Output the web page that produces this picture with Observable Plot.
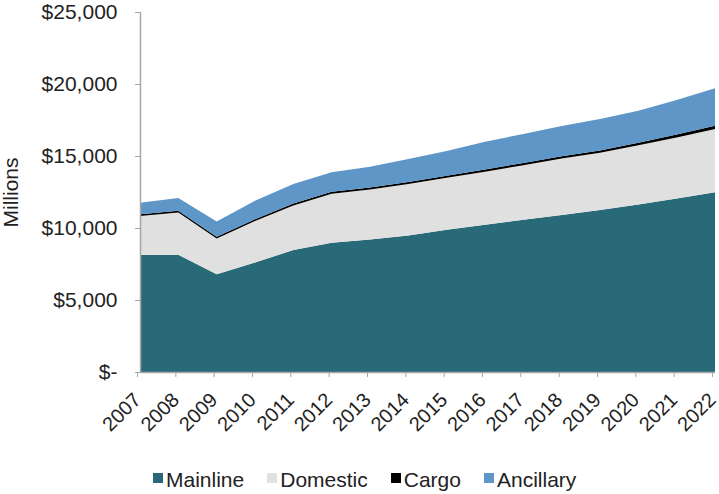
<!DOCTYPE html>
<html>
<head>
<meta charset="utf-8">
<script src="https://cdn.jsdelivr.net/npm/d3@7"></script>
<script src="https://cdn.jsdelivr.net/npm/@observablehq/plot@0.6"></script>
<style>
  html, body { margin: 0; padding: 0; background: #fff; }
  body { font-family: "Liberation Sans", Arial, sans-serif; color: #222; width: 719px; }
  #legend { display: flex; align-items: center; padding-left: 153px; margin-top: 20px; height: 40px; font-size: 21px; }
  #legend .item { display: flex; align-items: center; margin-right: 23px; }
  #legend .sw { width: 10px; height: 10px; margin-right: 3px; position: relative; top: -2px; }
</style>
</head>
<body>
<div id="chart"></div>
<div id="legend"></div>
<script>
const years = [2007, 2008, 2009, 2010, 2011, 2012, 2013, 2014, 2015, 2016, 2017, 2018, 2019, 2020, 2021, 2022];
const seriesNames = ["Mainline", "Domestic", "Cargo", "Ancillary"];
const seriesColors = ["#296a78", "#e0e0e0", "#000000", "#5e96c8"];
const mainline  = [8130, 8150, 6780, 7600, 8470, 8980, 9210, 9480, 9870, 10220, 10570, 10900, 11250, 11640, 12050, 12480];
const domestic  = [2710, 2920, 2490, 2880, 3090, 3390, 3460, 3580, 3620, 3680, 3790, 3930, 3970, 4100, 4240, 4400];
const cargo     = [120, 120, 120, 120, 140, 140, 140, 140, 140, 160, 160, 160, 160, 180, 200, 220];
const ancillary = [800, 890, 1070, 1290, 1360, 1360, 1450, 1590, 1720, 1930, 2010, 2090, 2190, 2230, 2400, 2600];
const yTicks = [0, 5000, 10000, 15000, 20000, 25000];

const seriesValues = [mainline, domestic, cargo, ancillary];
const data = [];
years.forEach((yr, i) => {
  seriesNames.forEach((s, j) => data.push({year: yr, series: s, value: seriesValues[j][i]}));
});

const fmtY = d => d === 0 ? "$-" : "$" + d3.format(",")(d);

const chart = Plot.plot({
  width: 719,
  height: 440,
  marginLeft: 140,
  marginRight: 4,
  marginTop: 12,
  marginBottom: 68,
  style: {fontFamily: "Liberation Sans, Arial, sans-serif", fontSize: "21px", color: "#222", background: "#fff", overflow: "visible"},
  x: {type: "linear", domain: [2007, 2022]},
  y: {domain: [0, 25000]},
  color: {domain: seriesNames, range: seriesColors},
  marks: [
    Plot.areaY(data, {x: "year", y: "value", z: "series", fill: "series", curve: "linear"}),
    Plot.ruleX([2007], {stroke: "#a6a6a6", strokeWidth: 1.5}),
    Plot.ruleY([0], {stroke: "#a6a6a6", strokeWidth: 1.5}),
    Plot.axisY({ticks: yTicks, tickSize: 5, tickPadding: 18, tickFormat: fmtY, stroke: "#a6a6a6", fill: "#222", fontSize: 21,
      label: "Millions", labelAnchor: "center", labelArrow: "none"}),
    Plot.axisX({ticks: years, tickSize: 5, tickPadding: 19, tickFormat: d => String(d), tickRotate: -45,
      stroke: "#a6a6a6", fill: "#222", fontSize: 20, dx: -3, label: null})
  ]
});
document.getElementById("chart").appendChild(chart);

const legend = document.getElementById("legend");
seriesNames.forEach((s, j) => {
  const it = document.createElement("div");
  it.className = "item";
  const sw = document.createElement("div");
  sw.className = "sw";
  sw.style.background = seriesColors[j];
  const tx = document.createElement("span");
  tx.textContent = s;
  it.appendChild(sw);
  it.appendChild(tx);
  legend.appendChild(it);
});
</script>
</body>
</html>
